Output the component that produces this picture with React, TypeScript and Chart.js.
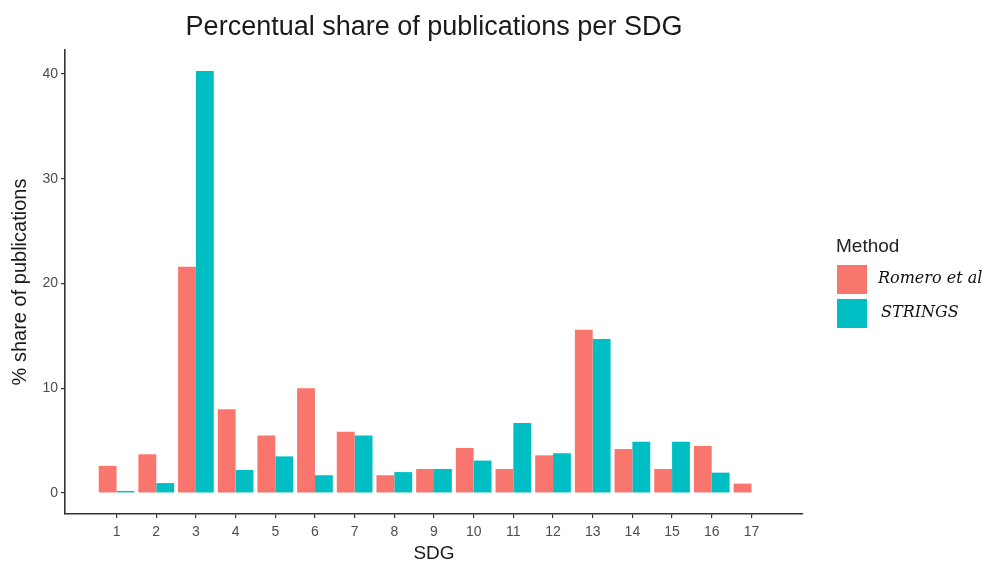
import React, { useEffect, useRef } from "react";
import { Chart, registerables } from "chart.js";

Chart.register(...registerables);

const sdgLabels = ["1", "2", "3", "4", "5", "6", "7", "8", "9", "10", "11", "12", "13", "14", "15", "16", "17"];
const romeroShare = [2.6, 3.7, 21.6, 8.0, 5.5, 10.0, 5.85, 1.7, 2.3, 4.3, 2.3, 3.6, 15.6, 4.2, 2.3, 4.5, 0.9];
const stringsShare = [0.2, 0.95, 40.3, 2.2, 3.5, 1.7, 5.5, 2.0, 2.3, 3.1, 6.7, 3.8, 14.7, 4.9, 4.9, 1.95, 0];
const yTickValues = [0, 10, 20, 30, 40];

const seriesNames = ["Romero et al", "STRINGS"];
const seriesColors = ["#F8766D", "#00BFC4"];

const titleText = "Percentual share of publications per SDG";
const legendTitle = "Method";

const SANS = "'Liberation Sans', Arial, sans-serif";

// Plot title centred over the panel, and a ggplot-style legend at the right.
const decorations = {
  id: "decorations",
  afterDraw(chart: any) {
    const { ctx, chartArea } = chart;
    ctx.save();
    ctx.fillStyle = "#1a1a1a";
    ctx.font = `27px ${SANS}`;
    ctx.textAlign = "center";
    ctx.textBaseline = "alphabetic";
    ctx.fillText(titleText, (chartArea.left + chartArea.right) / 2, 35);

    ctx.textAlign = "left";
    ctx.font = `19px ${SANS}`;
    ctx.fillStyle = "#222";
    ctx.fillText(legendTitle, 836, 252);

    chart.data.datasets.forEach((ds: any, i: number) => {
      const y = 265 + i * 34;
      ctx.fillStyle = ds.backgroundColor;
      ctx.fillRect(837, y, 30, 29);
      ctx.fillStyle = "#111";
      ctx.font = `italic 16px 'DejaVu Serif', serif`;
      ctx.textBaseline = "middle";
      ctx.fillText(ds.label, i === 0 ? 878 : 881, y + 14);
    });
    ctx.restore();
  },
};

export default function App() {
  const canvasRef = useRef<HTMLCanvasElement | null>(null);

  useEffect(() => {
    if (!canvasRef.current) return;
    const chart = new Chart(canvasRef.current, {
      type: "bar",
      data: {
        datasets: [romeroShare, stringsShare].map((vals, i) => ({
          label: seriesNames[i],
          data: vals.map((v, j) => ({ x: j + 1, y: v })),
          backgroundColor: seriesColors[i],
          borderWidth: 0,
          categoryPercentage: 0.9,
          barPercentage: 1.0,
        })),
      },
      plugins: [decorations],
      options: {
        animation: false,
        responsive: false,
        maintainAspectRatio: false,
        layout: { padding: { left: 0, top: 50, right: 188, bottom: 0 } },
        plugins: {
          legend: { display: false },
          title: { display: false },
          tooltip: { enabled: false },
        },
        scales: {
          x: {
            type: "linear",
            min: -0.3,
            max: 18.3,
            offset: false,
            afterBuildTicks: (scale: any) => {
              scale.ticks = sdgLabels.map((_, i) => ({ value: i + 1 }));
            },
            afterFit: (scale: any) => {
              scale.height = 49;
            },
            ticks: {
              autoSkip: false,
              maxRotation: 0,
              padding: 6,
              color: "#4d4d4d",
              font: { family: SANS, size: 14 },
              callback: (v: any) => sdgLabels[Number(v) - 1] ?? "",
            },
            grid: {
              offset: false,
              drawOnChartArea: false,
              drawTicks: true,
              tickLength: 4,
              color: "#333",
              tickColor: "#333",
              lineWidth: 1.2,
            },
            border: { display: true, color: "#333", width: 1.6 },
            title: {
              display: true,
              text: "SDG",
              color: "#1a1a1a",
              font: { family: SANS, size: 19, lineHeight: 1 },
              padding: { top: 0, bottom: 0 },
            },
          },
          y: {
            min: -2.0,
            max: 42.3,
            afterBuildTicks: (scale: any) => {
              scale.ticks = yTickValues.map((v) => ({ value: v }));
            },
            afterFit: (scale: any) => {
              scale.width = 65;
            },
            ticks: {
              padding: 3,
              color: "#4d4d4d",
              font: { family: SANS, size: 14 },
            },
            grid: {
              offset: false,
              drawOnChartArea: false,
              drawTicks: true,
              tickLength: 4,
              color: "#333",
              tickColor: "#333",
              lineWidth: 1.2,
            },
            border: { display: true, color: "#333", width: 1.6 },
            title: {
              display: true,
              text: "% share of publications",
              color: "#1a1a1a",
              font: { family: SANS, size: 20, lineHeight: 1 },
              padding: { top: 10, bottom: 0 },
            },
          },
        },
      },
    } as any);
    return () => chart.destroy();
  }, []);

  return (
    <div style={{ position: "absolute", left: 0, top: 0, width: 991, height: 563, background: "#fff" }}>
      <canvas ref={canvasRef} width={991} height={563} style={{ display: "block" }} />
    </div>
  );
}
